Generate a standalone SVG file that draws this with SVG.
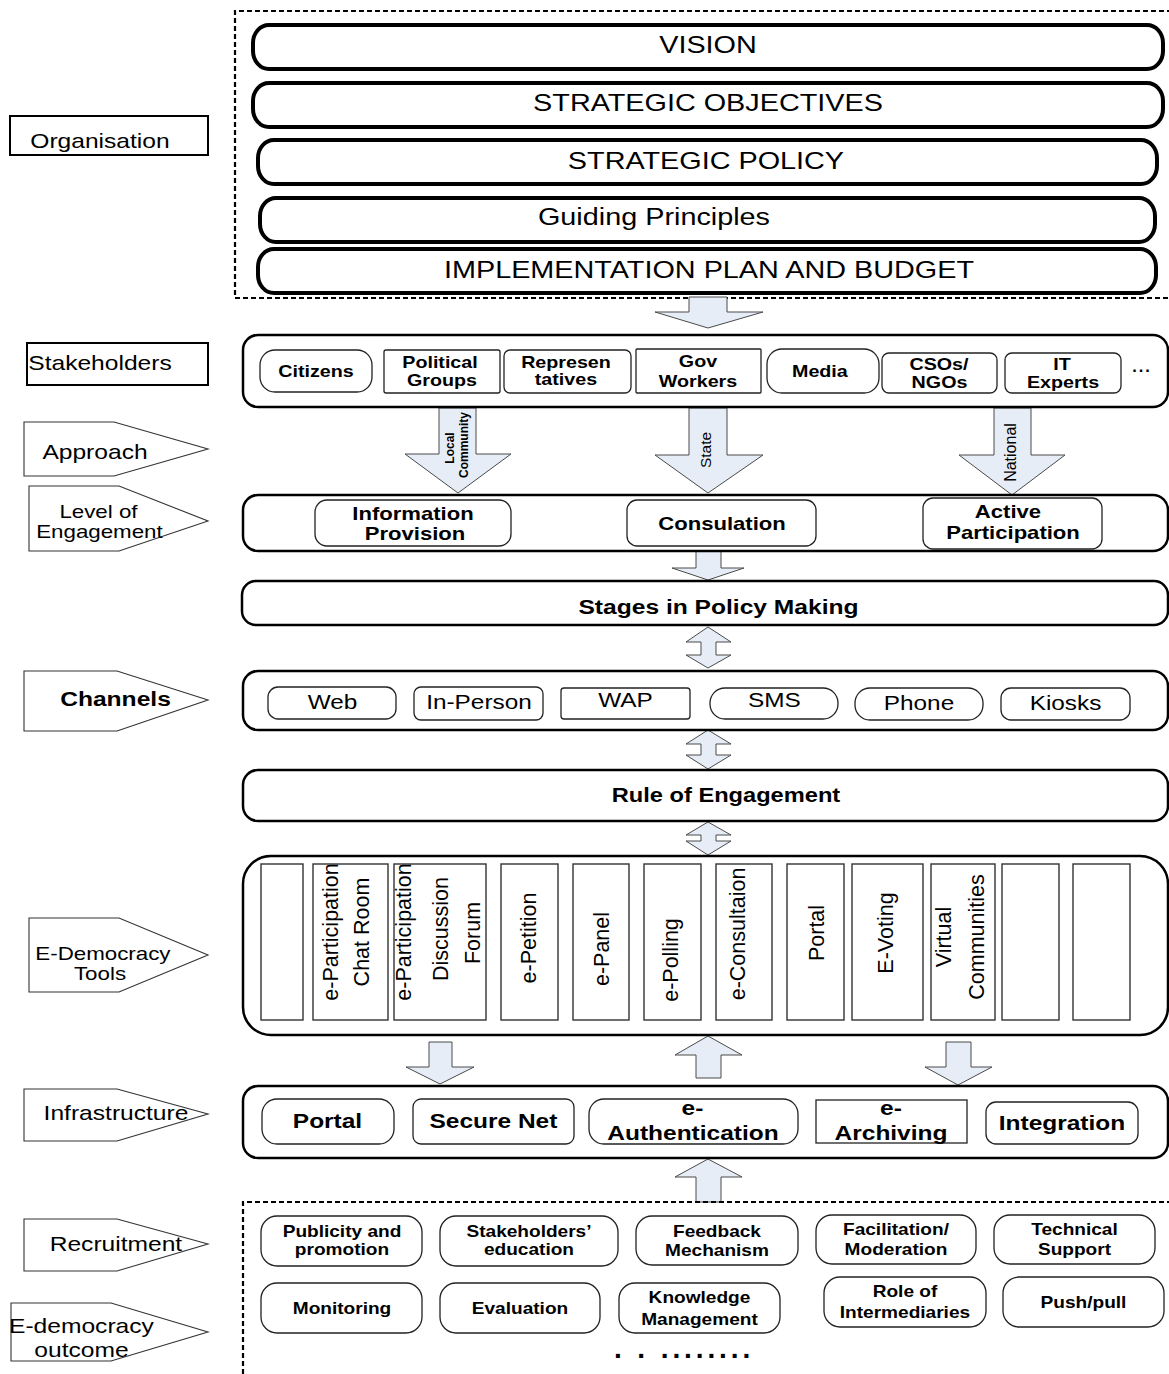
<svg xmlns="http://www.w3.org/2000/svg" width="1169" height="1374" viewBox="0 0 1169 1374">
<defs>
<style>
text{font-family:"Liberation Sans",Arial,Helvetica,sans-serif;fill:#000;text-anchor:middle}
.x{transform-box:fill-box;transform-origin:center;transform:scaleX(1.2)}
.b{font-weight:bold}
.h{font-size:24px}
.sd{font-size:20.5px}
.sd2{font-size:18.6px}
.sk{font-size:16.4px;font-weight:bold}
.lv{font-size:18.4px;font-weight:bold}
.ch{font-size:20.3px}
.inf{font-size:20.4px;font-weight:bold}
.rc{font-size:15.9px;font-weight:bold}
.tl{font-size:21.5px}
.pill{fill:#fff;stroke:#000;stroke-width:4}
.cont{fill:#fff;stroke:#000;stroke-width:2.5}
.item{fill:#fff;stroke:#222;stroke-width:1.3}
.col{fill:#fff;stroke:#333;stroke-width:1.4}
.tag{fill:#fff;stroke:#333;stroke-width:1.1}
.box{fill:#fff;stroke:#000;stroke-width:2}
.dash{fill:none;stroke:#000;stroke-width:2.2;stroke-dasharray:5 3}
.arr{fill:#e6edf7;stroke:#4a4a4a;stroke-width:1}
</style>
</defs>
<rect width="1169" height="1374" fill="#fff"/>

<!-- side labels -->
<g id="lbl-organisation"><rect class="box" x="10" y="116" width="198" height="39"/><text class="sd x" x="100" y="148">Organisation</text></g>
<g id="lbl-stakeholders"><rect class="box" x="27" y="343" width="181" height="42" stroke-width="2.4"/><text class="sd x" x="100" y="370">Stakeholders</text></g>
<g id="lbl-approach"><polygon class="tag" points="24,422 114,422 208,449 114,476 24,476"/><text class="sd x" x="95" y="459">Approach</text></g>
<g id="lbl-level"><polygon class="tag" points="29,486 119,486 208,521 119,551 29,551"/><text class="sd2 x" x="98.5" y="518">Level of</text><text class="sd2 x" x="99.5" y="538">Engagement</text></g>
<g id="lbl-channels"><polygon class="tag" points="24,671 117,671 208,700 117,731 24,731"/><text class="sd b x" x="115.5" y="706.5">Channels</text></g>
<g id="lbl-tools"><polygon class="tag" points="29,918 119,918 208,955 119,992 29,992"/><text class="sd2 x" x="103" y="960">E-Democracy</text><text class="sd2 x" x="100" y="980">Tools</text></g>
<g id="lbl-infrastructure"><polygon class="tag" points="24,1089 117,1089 208,1114 117,1141 24,1141"/><text class="sd x" x="116" y="1120.5">Infrastructure</text></g>
<g id="lbl-recruitment"><polygon class="tag" points="24,1219 117,1219 208,1244 117,1271 24,1271"/><text class="sd x" x="116" y="1251.5">Recruitment</text></g>
<g id="lbl-outcome"><polygon class="tag" points="11,1303 111,1303 208,1332 111,1361 11,1361"/><text class="sd x" x="81.5" y="1333">E-democracy</text><text class="sd x" x="81.5" y="1357">outcome</text></g>

<!-- organisation block -->
<g id="organisation">
<path class="dash" d="M1172 11 H235 V298 H1172"/>
<g id="vision"><rect class="pill" x="253" y="25" width="910" height="44" rx="16" ry="18"/><text class="h x" x="708" y="53">VISION</text></g>
<g id="objectives"><rect class="pill" x="253" y="83" width="910" height="44" rx="16" ry="18"/><text class="h x" x="708" y="111.5">STRATEGIC OBJECTIVES</text></g>
<g id="policy"><rect class="pill" x="258" y="140" width="899" height="44" rx="16" ry="18"/><text class="h x" x="706" y="169.5">STRATEGIC POLICY</text></g>
<g id="principles"><rect class="pill" x="260" y="198" width="895" height="44" rx="16" ry="18"/><text class="h x" x="654" y="225">Guiding Principles</text></g>
<g id="plan"><rect class="pill" x="258" y="249" width="898" height="44" rx="16" ry="18"/><text class="h x" x="709" y="278">IMPLEMENTATION PLAN AND BUDGET</text></g>
</g>

<!-- connectors -->
<g id="connectors">
<polygon class="arr" points="689,297 727,297 727,312 763,312 708,328 655,312 689,312"/>
<polygon class="arr" points="439,408 476,408 476,454 511,454 458,493 405,454 439,454"/>
<polygon class="arr" points="689,408 727,408 727,455 763,455 708,493 655,455 689,455"/>
<polygon class="arr" points="994,408 1031,408 1031,455 1065,455 1012,495 959,455 994,455"/>
<polygon class="arr" points="696,551 721,551 721,568 744,568 708,580 672,568 696,568"/>
<polygon class="arr" points="708,627 731,642 716,642 716,655 731,655 708,668 686,655 701,655 701,642 686,642"/>
<polygon class="arr" points="708,730 731,744 716,744 716,755 731,755 708,769 686,755 701,755 701,744 686,744"/>
<polygon class="arr" points="708,822 731,835 716,835 716,841 731,841 708,855 686,841 701,841 701,835 686,835"/>
<polygon class="arr" points="429,1042 452,1042 452,1067 474,1067 440,1084 406,1067 429,1067"/>
<polygon class="arr" points="708,1036 742,1055 721,1055 721,1078 696,1078 696,1055 675,1055"/>
<polygon class="arr" points="946,1042 971,1042 971,1067 992,1067 958,1085 925,1067 946,1067"/>
<polygon class="arr" points="708,1159 742,1177 721,1177 721,1202 696,1202 696,1177 675,1177"/>
<text class="b" font-size="12" transform="translate(454,448) rotate(-90)">Local</text>
<text class="b" font-size="12" transform="translate(468,445) rotate(-90)">Community</text>
<text font-size="15.5" transform="translate(711,450) rotate(-90)">State</text>
<text font-size="16" transform="translate(1015.5,452.5) rotate(-90)">National</text>
</g>

<!-- stakeholders -->
<g id="stakeholders">
<rect class="cont" x="243" y="335" width="925" height="72" rx="15"/>
<g id="sk-citizens"><rect class="item" x="260" y="350" width="112" height="42" rx="15"/><text class="sk x" x="316" y="377">Citizens</text></g>
<g id="sk-political"><rect class="item" x="384" y="350" width="116" height="43" rx="2"/><text class="sk x" x="440" y="368">Political</text><text class="sk x" x="442" y="386">Groups</text></g>
<g id="sk-representatives"><rect class="item" x="504" y="350" width="127" height="43" rx="6"/><text class="sk x" x="566" y="368">Represen</text><text class="sk x" x="566" y="385">tatives</text></g>
<g id="sk-gov"><rect class="item" x="636" y="349" width="125" height="44" rx="1"/><text class="sk x" x="698" y="367">Gov</text><text class="sk x" x="698" y="387">Workers</text></g>
<g id="sk-media"><rect class="item" x="767" y="349" width="112" height="44" rx="15"/><text class="sk x" x="820" y="377">Media</text></g>
<g id="sk-csos"><rect class="item" x="882" y="353" width="115" height="40" rx="7"/><text class="sk x" x="939" y="370">CSOs/</text><text class="sk x" x="939.5" y="388">NGOs</text></g>
<g id="sk-it"><rect class="item" x="1005" y="353" width="116" height="40" rx="7"/><text class="sk x" x="1062" y="370">IT</text><text class="sk x" x="1063" y="388">Experts</text></g>
<text class="sk" x="1142" y="372" letter-spacing="2">...</text>
</g>

<!-- level of engagement -->
<g id="engagement">
<rect class="cont" x="243" y="495" width="925" height="56" rx="15"/>
<g id="lv-info"><rect class="item" x="315" y="500" width="196" height="46" rx="12"/><text class="lv x" x="413" y="520">Information</text><text class="lv x" x="415" y="540">Provision</text></g>
<g id="lv-consult"><rect class="item" x="627" y="500" width="189" height="46" rx="10"/><text class="lv x" x="722" y="530">Consulation</text></g>
<g id="lv-active"><rect class="item" x="923" y="498" width="179" height="51" rx="10"/><text class="lv x" x="1008" y="518">Active</text><text class="lv x" x="1013" y="539">Participation</text></g>
</g>

<g id="stages"><rect class="cont" x="242" y="581" width="926" height="44" rx="14" stroke-width="4"/><text class="b x" font-size="20.5" x="718.5" y="614">Stages in Policy Making</text></g>

<!-- channels -->
<g id="channels">
<rect class="cont" x="243" y="671" width="925" height="59" rx="15"/>
<g id="ch-web"><rect class="item" x="268" y="687" width="128" height="32" rx="10"/><text class="ch x" x="332.5" y="709">Web</text></g>
<g id="ch-person"><rect class="item" x="414" y="687" width="129" height="33" rx="7"/><text class="ch x" x="479" y="709.5">In-Person</text></g>
<g id="ch-wap"><rect class="item" x="561" y="688" width="129" height="31" rx="3"/><text class="ch x" x="625.5" y="707.5">WAP</text></g>
<g id="ch-sms"><rect class="item" x="710" y="688" width="128" height="31" rx="15"/><text class="ch x" x="774.5" y="707.5">SMS</text></g>
<g id="ch-phone"><rect class="item" x="855" y="688" width="128" height="32" rx="15"/><text class="ch x" x="919" y="710">Phone</text></g>
<g id="ch-kiosks"><rect class="item" x="1001" y="688" width="129" height="32" rx="10"/><text class="ch x" x="1065.5" y="710">Kiosks</text></g>
</g>

<g id="rule"><rect class="cont" x="243" y="770" width="925" height="51" rx="15" stroke-width="2.2"/><text class="b x" font-size="19.7" x="726" y="802.5">Rule of Engagement</text></g>

<!-- tools -->
<g id="tools">
<rect class="cont" x="243" y="856" width="925" height="179" rx="28"/>
<rect class="col" x="261" y="864" width="42" height="156"/>
<g id="t-chat"><rect class="col" x="313" y="864" width="75" height="156"/><text class="tl" transform="translate(337.5,932) rotate(-90)">e-Participation</text><text class="tl" transform="translate(369,932) rotate(-90)">Chat Room</text></g>
<g id="t-forum"><rect class="col" x="394" y="864" width="92" height="156"/><text class="tl" transform="translate(411,932) rotate(-90)">e-Participation</text><text class="tl" transform="translate(448,929) rotate(-90)">Discussion</text><text class="tl" transform="translate(480,933) rotate(-90)">Forum</text></g>
<g id="t-petition"><rect class="col" x="501" y="864" width="57" height="156"/><text class="tl" transform="translate(536,938) rotate(-90)">e-Petition</text></g>
<g id="t-panel"><rect class="col" x="573" y="864" width="56" height="156"/><text class="tl" transform="translate(609,949) rotate(-90)">e-Panel</text></g>
<g id="t-polling"><rect class="col" x="644" y="864" width="57" height="156"/><text class="tl" transform="translate(677.5,960) rotate(-90)">e-Polling</text></g>
<g id="t-consult"><rect class="col" x="716" y="864" width="56" height="156"/><text class="tl" transform="translate(745,934) rotate(-90)">e-Consultaion</text></g>
<g id="t-portal"><rect class="col" x="787" y="864" width="57" height="156"/><text class="tl" transform="translate(824,933) rotate(-90)">Portal</text></g>
<g id="t-voting"><rect class="col" x="852" y="864" width="71" height="156"/><text class="tl" transform="translate(892.5,933) rotate(-90)">E-Voting</text></g>
<g id="t-virtual"><rect class="col" x="931" y="864" width="64" height="156"/><text class="tl" transform="translate(951,937) rotate(-90)">Virtual</text><text class="tl" transform="translate(984,937) rotate(-90)">Communities</text></g>
<rect class="col" x="1002" y="864" width="57" height="156"/>
<rect class="col" x="1073" y="864" width="57" height="156"/>
</g>

<!-- infrastructure -->
<g id="infrastructure">
<rect class="cont" x="243" y="1086" width="925" height="72" rx="15"/>
<g id="in-portal"><rect class="item" x="262" y="1099" width="132" height="45" rx="15"/><text class="inf x" x="327.5" y="1128">Portal</text></g>
<g id="in-secure"><rect class="item" x="413" y="1099" width="161" height="45" rx="8"/><text class="inf x" x="493.5" y="1128">Secure Net</text></g>
<g id="in-auth"><rect class="item" x="589" y="1099" width="209" height="45" rx="15"/><text class="inf x" x="692.5" y="1115">e-</text><text class="inf x" x="693" y="1140">Authentication</text></g>
<g id="in-archive"><rect class="item" x="816" y="1100" width="151" height="43" rx="0"/><text class="inf x" x="891" y="1115">e-</text><text class="inf x" x="891" y="1140">Archiving</text></g>
<g id="in-integration"><rect class="item" x="986" y="1102" width="152" height="42" rx="10"/><text class="inf x" x="1062" y="1130">Integration</text></g>
</g>

<!-- recruitment / outcome -->
<g id="recruitment">
<path class="dash" d="M1172 1202 H243 V1376"/>
<g id="rc-publicity"><rect class="item" x="261" y="1216" width="161" height="50" rx="16"/><text class="rc x" x="342" y="1237">Publicity and</text><text class="rc x" x="342" y="1255">promotion</text></g>
<g id="rc-education"><rect class="item" x="440" y="1216" width="178" height="50" rx="16"/><text class="rc x" x="529" y="1237">Stakeholders’</text><text class="rc x" x="529" y="1255">education</text></g>
<g id="rc-feedback"><rect class="item" x="636" y="1216" width="162" height="49" rx="16"/><text class="rc x" x="717" y="1237">Feedback</text><text class="rc x" x="717" y="1256">Mechanism</text></g>
<g id="rc-facilitation"><rect class="item" x="816" y="1215" width="160" height="49" rx="16"/><text class="rc x" x="896" y="1235">Facilitation/</text><text class="rc x" x="896" y="1255">Moderation</text></g>
<g id="rc-technical"><rect class="item" x="994" y="1215" width="161" height="49" rx="16"/><text class="rc x" x="1074.5" y="1235">Technical</text><text class="rc x" x="1074.5" y="1254.5">Support</text></g>
<g id="rc-monitoring"><rect class="item" x="261" y="1283" width="161" height="50" rx="16"/><text class="rc x" x="342" y="1314">Monitoring</text></g>
<g id="rc-evaluation"><rect class="item" x="440" y="1283" width="160" height="50" rx="16"/><text class="rc x" x="520" y="1314">Evaluation</text></g>
<g id="rc-knowledge"><rect class="item" x="619" y="1283" width="161" height="50" rx="16"/><text class="rc x" x="699.5" y="1303">Knowledge</text><text class="rc x" x="699.5" y="1325">Management</text></g>
<g id="rc-role"><rect class="item" x="824" y="1277" width="162" height="50" rx="16"/><text class="rc x" x="905" y="1297">Role of</text><text class="rc x" x="905" y="1318">Intermediaries</text></g>
<g id="rc-push"><rect class="item" x="1003" y="1277" width="161" height="50" rx="16"/><text class="rc x" x="1083.5" y="1308">Push/pull</text></g>
<text class="b" font-size="28" x="614" y="1358" letter-spacing="3.9" style="text-anchor:start">. . ........</text>
</g>
</svg>
